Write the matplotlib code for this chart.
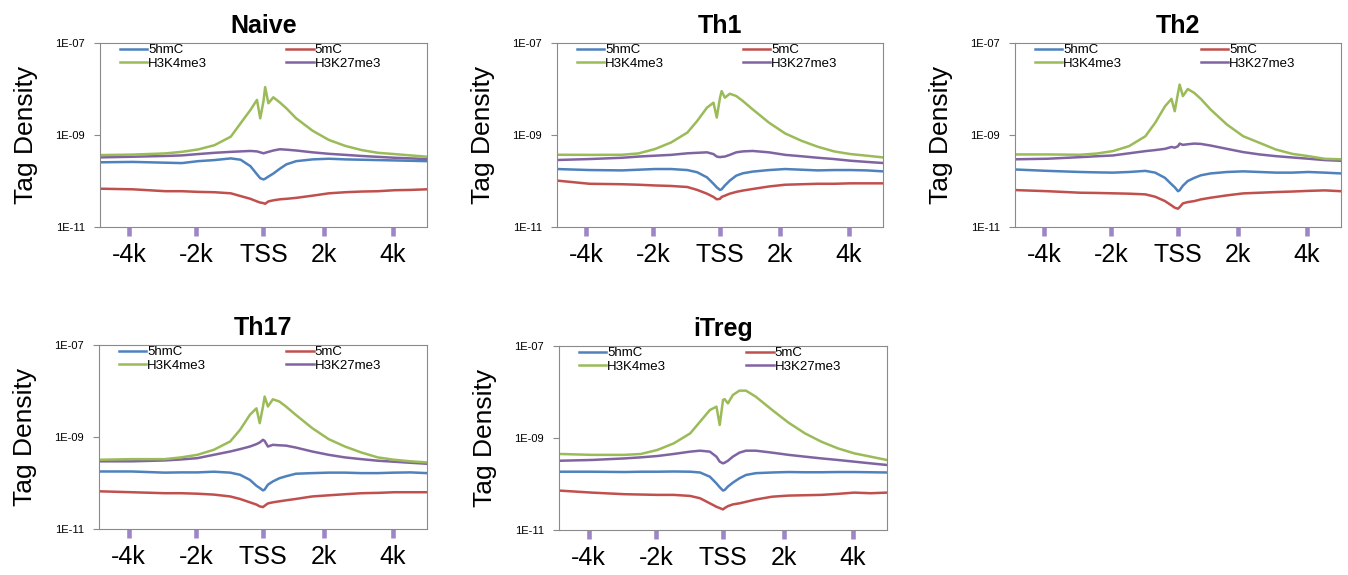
import matplotlib
matplotlib.use("Agg")
import matplotlib.pyplot as plt
from matplotlib.ticker import NullLocator


plt.rcParams["font.family"] = ["Liberation Sans", "DejaVu Sans"]

title_fontsize = 18
label_fontsize = 19
xtick_fontsize = 18
ytick_fontsize = 8
legend_fontsize = 9.5


pos_kb = [-5, -4, -3, -2.5, -2, -1.5, -1, -0.7, -0.4, -0.2, -0.1, 0, 0.05, 0.15,
	0.3, 0.5, 0.7, 1, 1.5, 2, 2.5, 3, 3.5, 4, 4.5, 5]

xtick_pos = [-4.1, -2.05, 0, 1.85, 3.95]
xtick_labels = ["-4k", "-2k", "TSS", "2k", "4k"]

ytick_vals = [1e-7, 1e-9, 1e-11]
ytick_labels = ["1E-07", "1E-09", "1E-11"]

cell_types = ["Naive", "Th1", "Th2", "Th17", "iTreg"]
series_names = ["5hmC", "H3K4me3", "5mC", "H3K27me3"]

# tag density, in units of 1e-10
naive_5hmc = [2.55, 2.6, 2.5, 2.45, 2.7, 2.85, 3.1, 2.9, 2.1, 1.4, 1.15, 1.08, 1.12,
	1.25, 1.45, 1.85, 2.3, 2.7, 2.95, 3.05, 2.95, 2.9, 2.85, 2.8, 2.75, 2.7]
naive_5mc = [0.68, 0.66, 0.6, 0.6, 0.58, 0.57, 0.54, 0.47, 0.41, 0.36, 0.34, 0.33, 0.32,
	0.36, 0.38, 0.4, 0.41, 0.43, 0.48, 0.54, 0.57, 0.59, 0.6, 0.63, 0.64, 0.66]
naive_k4 = [3.66, 3.75, 3.98, 4.3, 4.85, 6.0, 9.2, 18, 35, 58, 23, 55, 110,
	49, 66, 51, 38, 23, 12.4, 7.8, 5.8, 4.7, 4.1, 3.85, 3.6, 3.37]
naive_k27 = [3.26, 3.37, 3.5, 3.6, 3.85, 4.1, 4.3, 4.4, 4.5, 4.4, 4.2, 4.0, 4.1,
	4.3, 4.6, 4.9, 4.8, 4.6, 4.2, 3.9, 3.7, 3.5, 3.35, 3.2, 3.1, 3.0]

th1_5hmc = [1.82, 1.73, 1.7, 1.76, 1.82, 1.82, 1.73, 1.55, 1.2, 0.87, 0.73, 0.64, 0.66,
	0.8, 1.02, 1.31, 1.47, 1.6, 1.73, 1.82, 1.76, 1.7, 1.73, 1.73, 1.7, 1.62]
th1_5mc = [1.02, 0.87, 0.85, 0.83, 0.8, 0.78, 0.74, 0.64, 0.53, 0.45, 0.4, 0.41, 0.45,
	0.48, 0.53, 0.58, 0.62, 0.67, 0.76, 0.83, 0.85, 0.87, 0.87, 0.89, 0.89, 0.89]
th1_k4 = [3.72, 3.7, 3.72, 3.98, 4.94, 6.88, 11.3, 20.2, 39.3, 50.4, 23.9, 64.7, 90,
	64.7, 78.9, 70.3, 54.8, 36.2, 18.6, 10.8, 7.48, 5.55, 4.4, 3.85, 3.55, 3.26]
th1_k27 = [2.86, 3.0, 3.2, 3.4, 3.55, 3.7, 4.0, 4.1, 4.2, 3.85, 3.4, 3.3, 3.35,
	3.4, 3.7, 4.2, 4.4, 4.5, 4.2, 3.7, 3.45, 3.2, 3.0, 2.76, 2.6, 2.46]

th2_5hmc = [1.78, 1.66, 1.57, 1.54, 1.52, 1.57, 1.66, 1.52, 1.17, 0.85, 0.73, 0.6, 0.63,
	0.79, 1.0, 1.17, 1.33, 1.46, 1.57, 1.62, 1.57, 1.52, 1.52, 1.57, 1.52, 1.46]
th2_5mc = [0.635, 0.6, 0.556, 0.55, 0.54, 0.53, 0.512, 0.455, 0.366, 0.295, 0.263, 0.25, 0.27,
	0.326, 0.348, 0.366, 0.398, 0.433, 0.487, 0.538, 0.556, 0.575, 0.59, 0.61, 0.625, 0.6]
th2_k4 = [3.78, 3.78, 3.72, 3.95, 4.46, 5.73, 9.4, 18.4, 42, 61, 32.9, 82, 125,
	70, 100, 82, 61, 35.8, 16.9, 9.4, 6.76, 4.84, 3.9, 3.47, 3.04, 2.96]
th2_k27 = [2.96, 3.05, 3.3, 3.45, 3.59, 4.0, 4.46, 4.7, 5.0, 5.5, 5.3, 5.7, 6.5,
	6.1, 6.3, 6.5, 6.4, 5.9, 5.0, 4.25, 3.78, 3.47, 3.25, 3.05, 2.85, 2.75]

th17_5hmc = [1.78, 1.78, 1.68, 1.7, 1.7, 1.76, 1.68, 1.51, 1.17, 0.87, 0.78, 0.69, 0.72,
	0.92, 1.08, 1.27, 1.4, 1.59, 1.64, 1.68, 1.68, 1.64, 1.64, 1.68, 1.7, 1.64]
th17_5mc = [0.66, 0.63, 0.6, 0.6, 0.585, 0.56, 0.51, 0.45, 0.38, 0.34, 0.31, 0.3, 0.32,
	0.36, 0.38, 0.4, 0.42, 0.45, 0.51, 0.54, 0.57, 0.6, 0.61, 0.63, 0.63, 0.63]
th17_k4 = [3.2, 3.3, 3.3, 3.6, 4.1, 5.27, 8.0, 14.3, 30.3, 42, 20, 45.9, 75.7,
	46, 66, 59, 46, 30.3, 15.6, 9.0, 6.2, 4.6, 3.6, 3.2, 2.96, 2.8]
th17_k27 = [2.96, 2.96, 3.09, 3.25, 3.47, 4.1, 4.84, 5.45, 6.2, 7.0, 7.6, 8.7, 8.2,
	6.2, 6.76, 6.6, 6.5, 5.9, 4.84, 4.1, 3.6, 3.3, 3.05, 2.9, 2.75, 2.62]

itreg_5hmc = [1.85, 1.85, 1.82, 1.85, 1.85, 1.87, 1.85, 1.78, 1.44, 1.03, 0.85, 0.72, 0.74,
	0.88, 1.07, 1.33, 1.57, 1.72, 1.78, 1.82, 1.8, 1.8, 1.82, 1.82, 1.8, 1.78]
itreg_5mc = [0.72, 0.65, 0.6, 0.59, 0.58, 0.58, 0.55, 0.49, 0.38, 0.32, 0.3, 0.28, 0.3,
	0.33, 0.36, 0.38, 0.41, 0.46, 0.53, 0.56, 0.57, 0.58, 0.61, 0.65, 0.63, 0.65]
itreg_k4 = [4.5, 4.3, 4.3, 4.5, 5.5, 7.65, 12.6, 22.6, 40.6, 48, 19.2, 67, 70,
	56.7, 86, 107, 107, 79, 40.6, 21.5, 12.6, 8.3, 5.96, 4.64, 3.93, 3.32]
itreg_k27 = [3.2, 3.33, 3.6, 3.8, 4.06, 4.5, 5.05, 5.3, 5.05, 3.93, 3.06, 2.81, 2.9,
	3.2, 3.93, 4.8, 5.3, 5.3, 4.8, 4.3, 3.93, 3.6, 3.33, 3.06, 2.81, 2.59]


series2color = {
	"5hmC": "#4f81bd",
	"5mC": "#c0504d",
	"H3K4me3": "#9bbb59",
	"H3K27me3": "#8064a2",
}

frame_color = "#8a8a8a"
mark_color = "#9d86c8"


def plot_in_ax(ax, name, profiles):
	for series in ["5hmC", "5mC", "H3K27me3", "H3K4me3"]:
		vals = [v * 1e-10 for v in profiles[series]]
		ax.plot(pos_kb, vals, color=series2color[series], lw=1.8, label=series)

	ax.set_yscale("log")
	ax.set_ylim(1e-11, 1e-7)
	ax.set_xlim(-5, 5)
	ax.set_yticks(ytick_vals, ytick_labels)
	ax.yaxis.set_minor_locator(NullLocator())
	ax.set_xticks(xtick_pos, xtick_labels)

	ax.tick_params(axis="y", length=4, width=0.8, color=frame_color,
		labelsize=ytick_fontsize, pad=7)
	ax.tick_params(axis="x", length=6.5, width=3.3, color=mark_color,
		labelsize=xtick_fontsize, pad=5)
	for sp in ax.spines.values():
		sp.set_color(frame_color)
		sp.set_linewidth(0.8)

	handles, labels = ax.get_legend_handles_labels()
	order = [labels.index(s) for s in series_names]
	ax.legend(
		[handles[i] for i in order], [labels[i] for i in order],
		ncol=2, mode="expand", loc="upper left",
		bbox_to_anchor=(0.06, 0.995, 0.80, 0),
		frameon=False, fontsize=legend_fontsize,
		handlelength=2.1, handletextpad=0.05,
		labelspacing=0.12, borderpad=0, borderaxespad=0,
	)

	ax.set_title(name, fontsize=title_fontsize, fontweight="bold", pad=7)
	ax.set_ylabel("Tag Density", fontsize=label_fontsize, labelpad=12)


if __name__ == "__main__":
	fig = plt.figure(figsize=(13.48, 5.75), dpi=100)

	W, H = 1348, 575
	# axes boxes in pixels: left, top, width, height
	boxes = [
		(100, 43, 327, 184),
		(557, 43, 326, 184),
		(1015, 43, 326, 184),
		(99, 345, 328, 184),
		(559, 346, 328, 184),
	]

	all_profiles = [
		[naive_5hmc, naive_5mc, naive_k4, naive_k27],
		[th1_5hmc, th1_5mc, th1_k4, th1_k27],
		[th2_5hmc, th2_5mc, th2_k4, th2_k27],
		[th17_5hmc, th17_5mc, th17_k4, th17_k27],
		[itreg_5hmc, itreg_5mc, itreg_k4, itreg_k27],
	]

	for name, box, prof in zip(cell_types, boxes, all_profiles):
		l, t, w, h = box
		ax = fig.add_axes([l / W, (H - t - h) / H, w / W, h / H])
		profiles = {
			"5hmC": prof[0],
			"5mC": prof[1],
			"H3K4me3": prof[2],
			"H3K27me3": prof[3],
		}
		plot_in_ax(ax, name, profiles)

	plt.savefig("out.png", dpi=100)
	plt.close()
